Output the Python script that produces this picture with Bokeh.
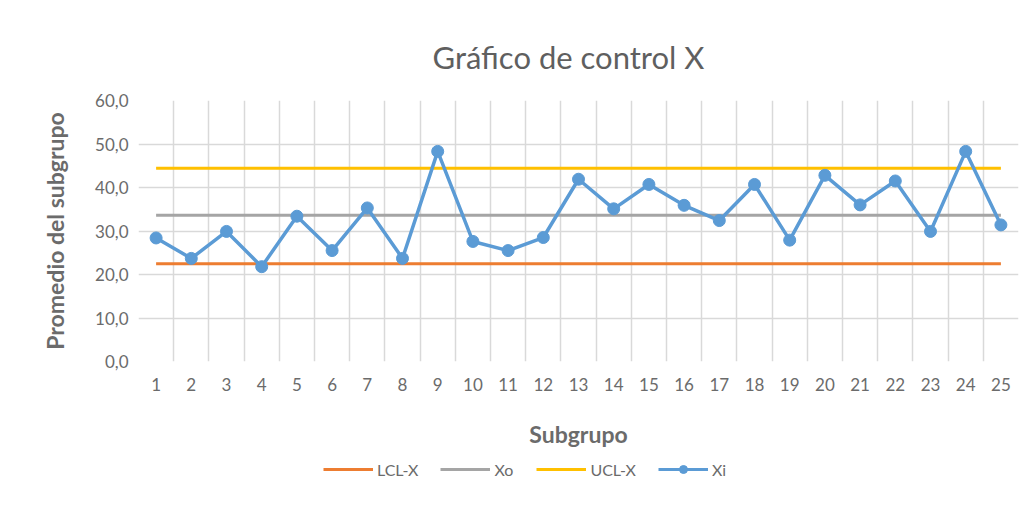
from bokeh.plotting import figure
from bokeh.layouts import column
from bokeh.models import FixedTicker, Legend, LegendItem, Range1d
from bokeh.embed import file_html
from bokeh.resources import INLINE

subgrupos = list(range(1, 26))
xi = [28.4, 23.7, 29.9, 21.8, 33.4, 25.5, 35.3, 23.7, 48.3, 27.6,
      25.5, 28.5, 41.9, 35.1, 40.7, 35.9, 32.4, 40.7, 27.9, 42.8,
      36.0, 41.5, 29.9, 48.3, 31.4]
lcl_value = 22.5
xo_value = 33.6
ucl_value = 44.4
lcl = [lcl_value] * len(subgrupos)
xo = [xo_value] * len(subgrupos)
ucl = [ucl_value] * len(subgrupos)
y_ticks = [0, 10, 20, 30, 40, 50, 60]
y_labels = {t: f"{t:.1f}".replace(".", ",") for t in y_ticks}
series_names = ["LCL-X", "Xo", "UCL-X", "Xi"]
series_values = [lcl, xo, ucl, xi]
series_colors = ["#ED7D31", "#A5A5A5", "#FFC000", "#5B9BD5"]

FONT = "Lato"
TXT = "#6b6b6b"

p = figure(width=1035, height=450, output_backend="svg", toolbar_location=None,
           x_range=Range1d(0.5, 25.5), y_range=Range1d(0, 60),
           min_border_left=138, min_border_right=17, min_border_top=100,
           min_border_bottom=83)

p.title.text = "Gráfico de control X"
p.title.align = "left"
p.title.offset = 294
p.title.text_font = FONT
p.title.text_font_size = "31px"
p.title.text_font_style = "normal"
p.title.text_color = "#5f5f5f"
p.title.standoff = 50

p.outline_line_color = None

# axes
p.xaxis.ticker = FixedTicker(ticks=subgrupos)
p.yaxis.ticker = FixedTicker(ticks=y_ticks)
p.yaxis.major_label_overrides = y_labels
for ax in (p.xaxis[0], p.yaxis[0]):
    ax.major_tick_line_color = None
    ax.minor_tick_line_color = None
    ax.axis_line_color = None
    ax.major_label_text_font = FONT
    ax.major_label_text_font_size = "17px"
    ax.major_label_text_color = TXT
    ax.axis_label_text_font = FONT
    ax.axis_label_text_font_size = "23px"
    ax.axis_label_text_font_style = "bold"
    ax.axis_label_text_color = TXT
p.xaxis.axis_label = "Subgrupo"
p.yaxis.axis_label = "Promedio del subgrupo"
p.xaxis.major_label_standoff = 10
p.yaxis.major_label_standoff = 4
p.xaxis.axis_label_standoff = 26
p.yaxis.axis_label_standoff = 23

# grid
p.xgrid.ticker = FixedTicker(ticks=[i + 0.5 for i in range(0, 26)])
p.ygrid.ticker = FixedTicker(ticks=y_ticks)
p.xgrid.grid_line_color = "#d9d9d9"
p.ygrid.grid_line_color = "#d9d9d9"
p.xgrid.grid_line_width = 1.5
p.ygrid.grid_line_width = 1.5

for vals, col in zip(series_values, series_colors):
    p.line(subgrupos, vals, line_color=col, line_width=3.5 if vals is xi else 3)
p.scatter(subgrupos, xi, size=12, fill_color=series_colors[3], line_color=series_colors[3])

# legend strip below the chart (its own renderers lie outside its visible range)
lg = figure(width=1035, height=78, output_backend="svg", toolbar_location=None,
            x_range=Range1d(0.5, 25.5), y_range=Range1d(1000, 1001),
            x_axis_location=None, y_axis_location=None,
            min_border_left=0, min_border_right=0, min_border_top=0,
            min_border_bottom=0, outline_line_color=None)
lg.grid.visible = False
items = []
for name, vals, col in zip(series_names, series_values, series_colors):
    rs = [lg.line(subgrupos, vals, line_color=col, line_width=3)]
    if name == "Xi":
        rs.append(lg.scatter(subgrupos, vals, size=12, fill_color=col, line_color=col))
    items.append(LegendItem(label=name, renderers=rs))

legend = Legend(items=items, orientation="horizontal", location=(185, 49))
legend.label_text_font = FONT
legend.label_text_font_size = "16px"
legend.label_text_color = TXT
legend.glyph_width = 50
legend.label_standoff = 4
legend.spacing = 22
legend.padding = 0
legend.margin = 0
legend.border_line_color = None
legend.background_fill_alpha = 0
lg.add_layout(legend, "center")

layout = column(p, lg, spacing=0)
open("out.html", "w").write(file_html(layout, INLINE))
